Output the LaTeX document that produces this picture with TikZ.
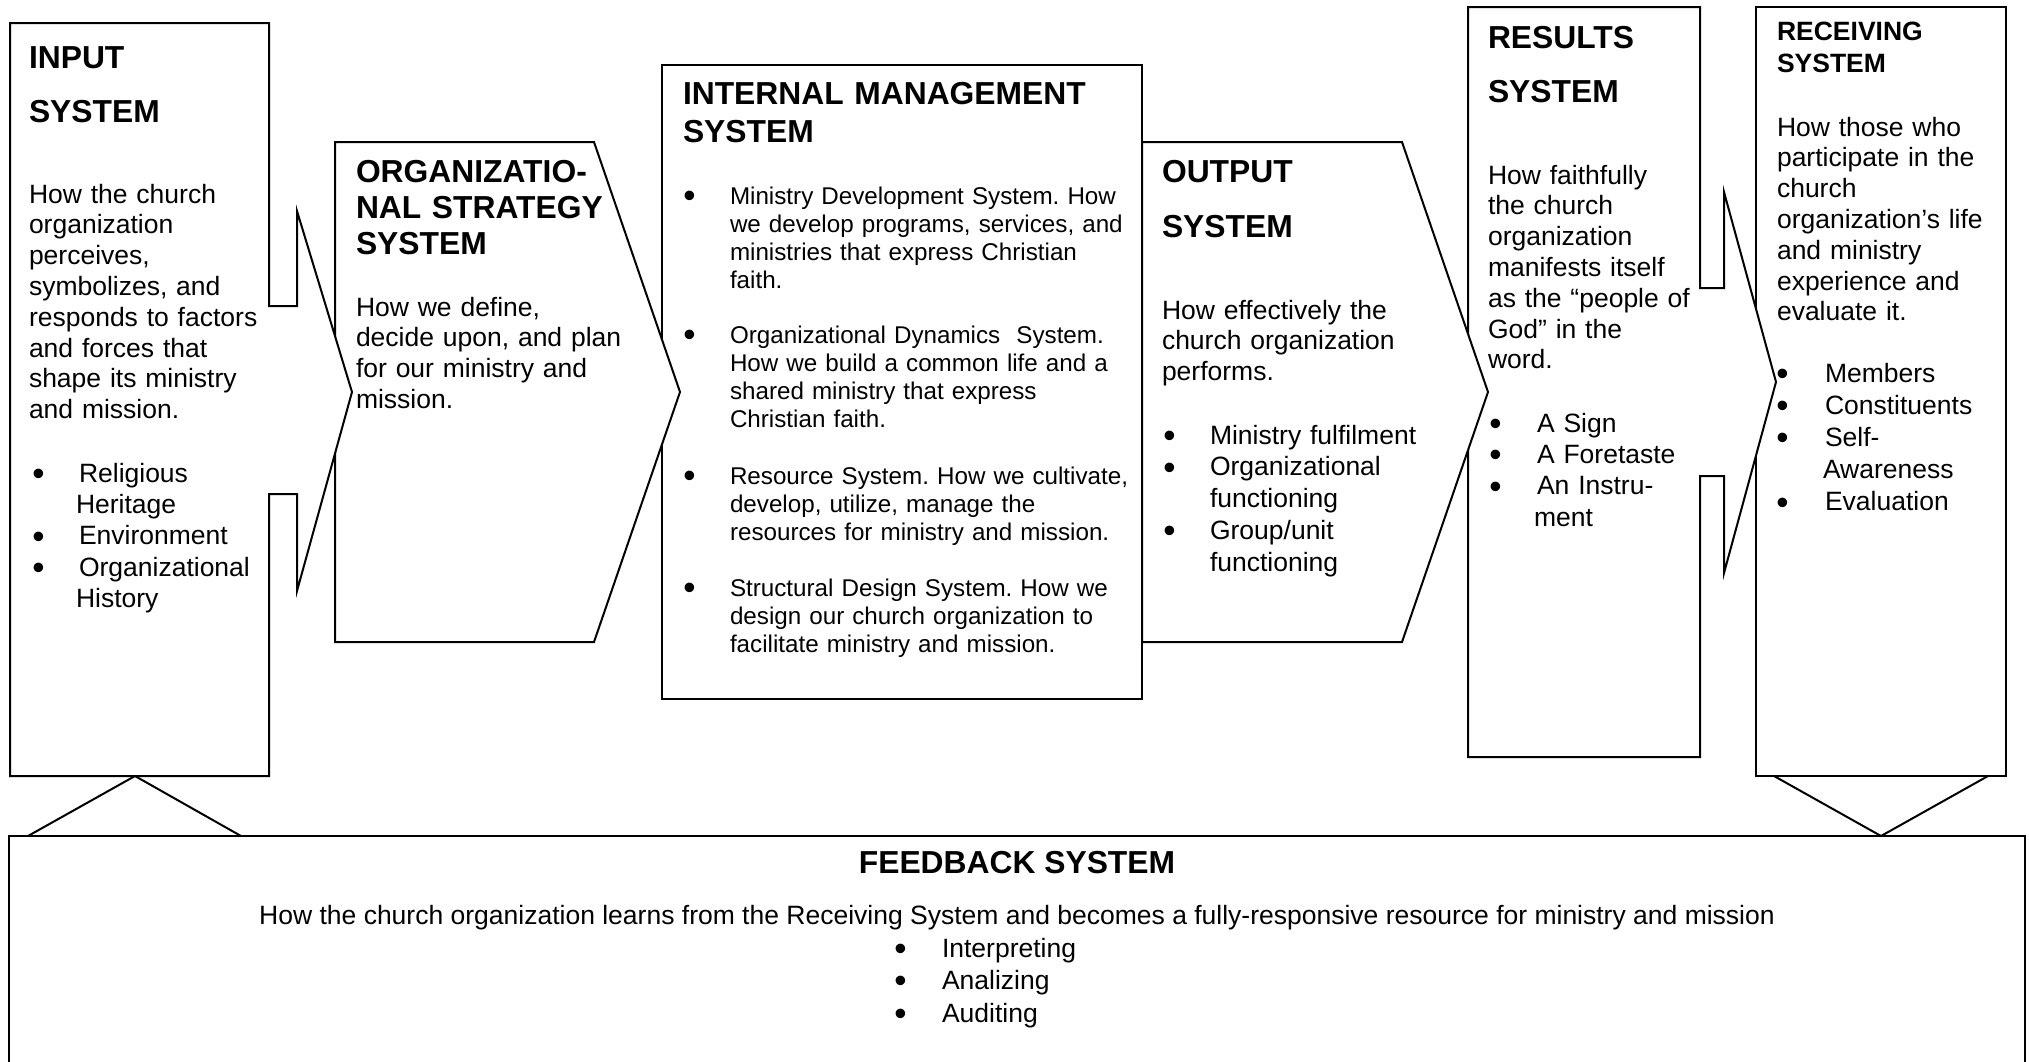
\documentclass[tikz,border=0pt]{standalone}
\usepackage{fontspec}
\setmainfont{Liberation Sans}
\frenchspacing
\newcommand{\ttlf}{\fontsize{15.9}{18}\selectfont\bfseries}
\newcommand{\bdyf}{\fontsize{13.25}{15.4}\selectfont}
\newcommand{\lstf}{\fontsize{13.25}{15.7}\selectfont}
\newcommand{\imsf}{\fontsize{12.1}{14.1}\selectfont}
\newcommand{\blt}[1]{\makebox[#1][l]{\hspace*{-0.8pt}\raisebox{-1.7pt}{\fontsize{17.5}{17.5}\selectfont\textbullet}}}
\begin{document}
\begin{tikzpicture}[x=0.5pt,y=-0.5pt]
\tikzset{
  shapebox/.style={draw=black, fill=white, line width=1pt, line join=miter},
  link/.style={draw=black, line width=1pt},
  txt/.style={anchor=base west, inner sep=0pt, outer sep=0pt, text width=260pt, align=left},
  ctxt/.style={anchor=base, inner sep=0pt, outer sep=0pt}
}
\useasboundingbox[fill=white] (0,0) rectangle (2029,1061);

% ---------- shapes ----------
% internal management box
\draw[shapebox] (662,65) rectangle (1142,699);
% organizational strategy chevron
\draw[shapebox] (335,142) -- (594,142) -- (680,392) -- (594,642) -- (335,642) -- cycle;
% input box with arrow
\draw[shapebox] (10,23) -- (269,23) -- (269,306) -- (297,306) -- (297,211) -- (352,392)
  -- (297,591) -- (297,494) -- (269,494) -- (269,776) -- (10,776) -- cycle;
% receiving box
\draw[shapebox] (1756,7) rectangle (2006,776);
% results box with arrow
\draw[shapebox] (1468,7) -- (1700,7) -- (1700,288) -- (1724,288) -- (1724,192) -- (1776,382)
  -- (1724,573) -- (1724,476) -- (1700,476) -- (1700,757) -- (1468,757) -- cycle;
% output chevron
\draw[shapebox] (1142,142) -- (1402,142) -- (1488,392) -- (1402,642) -- (1142,642) -- cycle;
% feedback box (open at the bottom)
\draw[shapebox] (9,1075) -- (9,836) -- (2025,836) -- (2025,1075);
% connecting triangles
\coordinate (inBot) at (135,776);
\coordinate (recBot) at (1881,836);
\draw[link] (28,836) -- (inBot) -- (241,836);
\draw[link] (1774,776) -- (recBot) -- (1988,776);

% ---------- input system ----------
\node[txt, font=\ttlf] (inT1) at (29,68) {INPUT};
\node[txt, font=\ttlf] (inT2) at (29,122) {SYSTEM};
\node[txt, font=\bdyf] (inB) at (29,203) {How the church\\organization\\perceives,\\symbolizes, and\\responds to factors\\and forces that\\shape its ministry\\and mission.};
\node[txt, font=\lstf] (inL) at (34,482) {\blt{22.5pt}Religious\\\hspace*{21pt}Heritage\\\blt{22.5pt}Environment\\\blt{22.5pt}Organizational\\\hspace*{21pt}History};

% ---------- organizational strategy ----------
\node[txt, font=\ttlf] (orgT) at (356,182) {ORGANIZATIO-\\NAL STRATEGY\\SYSTEM};
\node[txt, font=\bdyf] (orgB) at (356,316) {How we define,\\decide upon, and plan\\for our ministry and\\mission.};

% ---------- internal management ----------
\node[txt, font={\fontsize{15.9}{19}\selectfont\bfseries}] (imT) at (683,104) {INTERNAL MANAGEMENT\\SYSTEM};
\node[txt, font=\imsf] (im1) at (685,204) {\blt{22.5pt}Ministry Development System. How\\\hspace*{22.5pt}we develop programs, services, and\\\hspace*{22.5pt}ministries that express Christian\\\hspace*{22.5pt}faith.};
\node[txt, font=\imsf] (im2) at (685,343) {\blt{22.5pt}Organizational Dynamics\ \ System.\\\hspace*{22.5pt}How we build a common life and a\\\hspace*{22.5pt}shared ministry that express\\\hspace*{22.5pt}Christian faith.};
\node[txt, font=\imsf] (im3) at (685,484) {\blt{22.5pt}Resource System. How we cultivate,\\\hspace*{22.5pt}develop, utilize, manage the\\\hspace*{22.5pt}resources for ministry and mission.};
\node[txt, font=\imsf] (im4) at (685,596) {\blt{22.5pt}Structural Design System. How we\\\hspace*{22.5pt}design our church organization to\\\hspace*{22.5pt}facilitate ministry and mission.};

% ---------- output system ----------
\node[txt, font=\ttlf] (outT1) at (1162,182) {OUTPUT};
\node[txt, font=\ttlf] (outT2) at (1162,237) {SYSTEM};
\node[txt, font=\bdyf] (outB) at (1162,319) {How effectively the\\church organization\\performs.};
\node[txt, font={\fontsize{13.25}{15.9}\selectfont}] (outL) at (1165,444) {\blt{22.5pt}Ministry fulfilment\\\blt{22.5pt}Organizational\\\hspace*{22.5pt}functioning\\\blt{22.5pt}Group/unit\\\hspace*{22.5pt}functioning};

% ---------- results system ----------
\node[txt, font=\ttlf] (resT1) at (1488,48) {RESULTS};
\node[txt, font=\ttlf] (resT2) at (1488,102) {SYSTEM};
\node[txt, font=\bdyf] (resB) at (1488,184) {How faithfully\\the church\\organization\\manifests itself\\as the “people of\\God” in the\\word.};
\node[txt, font=\lstf] (resL) at (1491,432) {\blt{23pt}A Sign\\\blt{23pt}A Foretaste\\\blt{23pt}An Instru-\\\hspace*{21.5pt}ment};

% ---------- receiving system ----------
\node[txt, font={\fontsize{13.25}{16.3}\selectfont\bfseries}] (recT) at (1777,40) {RECEIVING\\SYSTEM};
\node[txt, font=\bdyf] (recB) at (1777,136) {How those who\\participate in the\\church\\organization’s life\\and ministry\\experience and\\evaluate it.};
\node[txt, font={\fontsize{13.25}{16.1}\selectfont}] (recL) at (1778,382) {\blt{23.5pt}Members\\\blt{23.5pt}Constituents\\\blt{23.5pt}Self-\\\hspace*{22.5pt}Awareness\\\blt{23.5pt}Evaluation};

% ---------- feedback system ----------
\node[ctxt, font=\ttlf] (fbT) at (1017,873) {FEEDBACK SYSTEM};
\node[ctxt, font=\bdyf] (fbB) at (1017,924) {How the church organization learns from the Receiving System and becomes a fully-responsive resource for ministry and mission};
\node[txt, font={\fontsize{13.25}{16.25}\selectfont}] (fbL) at (896,957) {\blt{23pt}Interpreting\\\blt{23pt}Analizing\\\blt{23pt}Auditing};
\end{tikzpicture}
\end{document}
